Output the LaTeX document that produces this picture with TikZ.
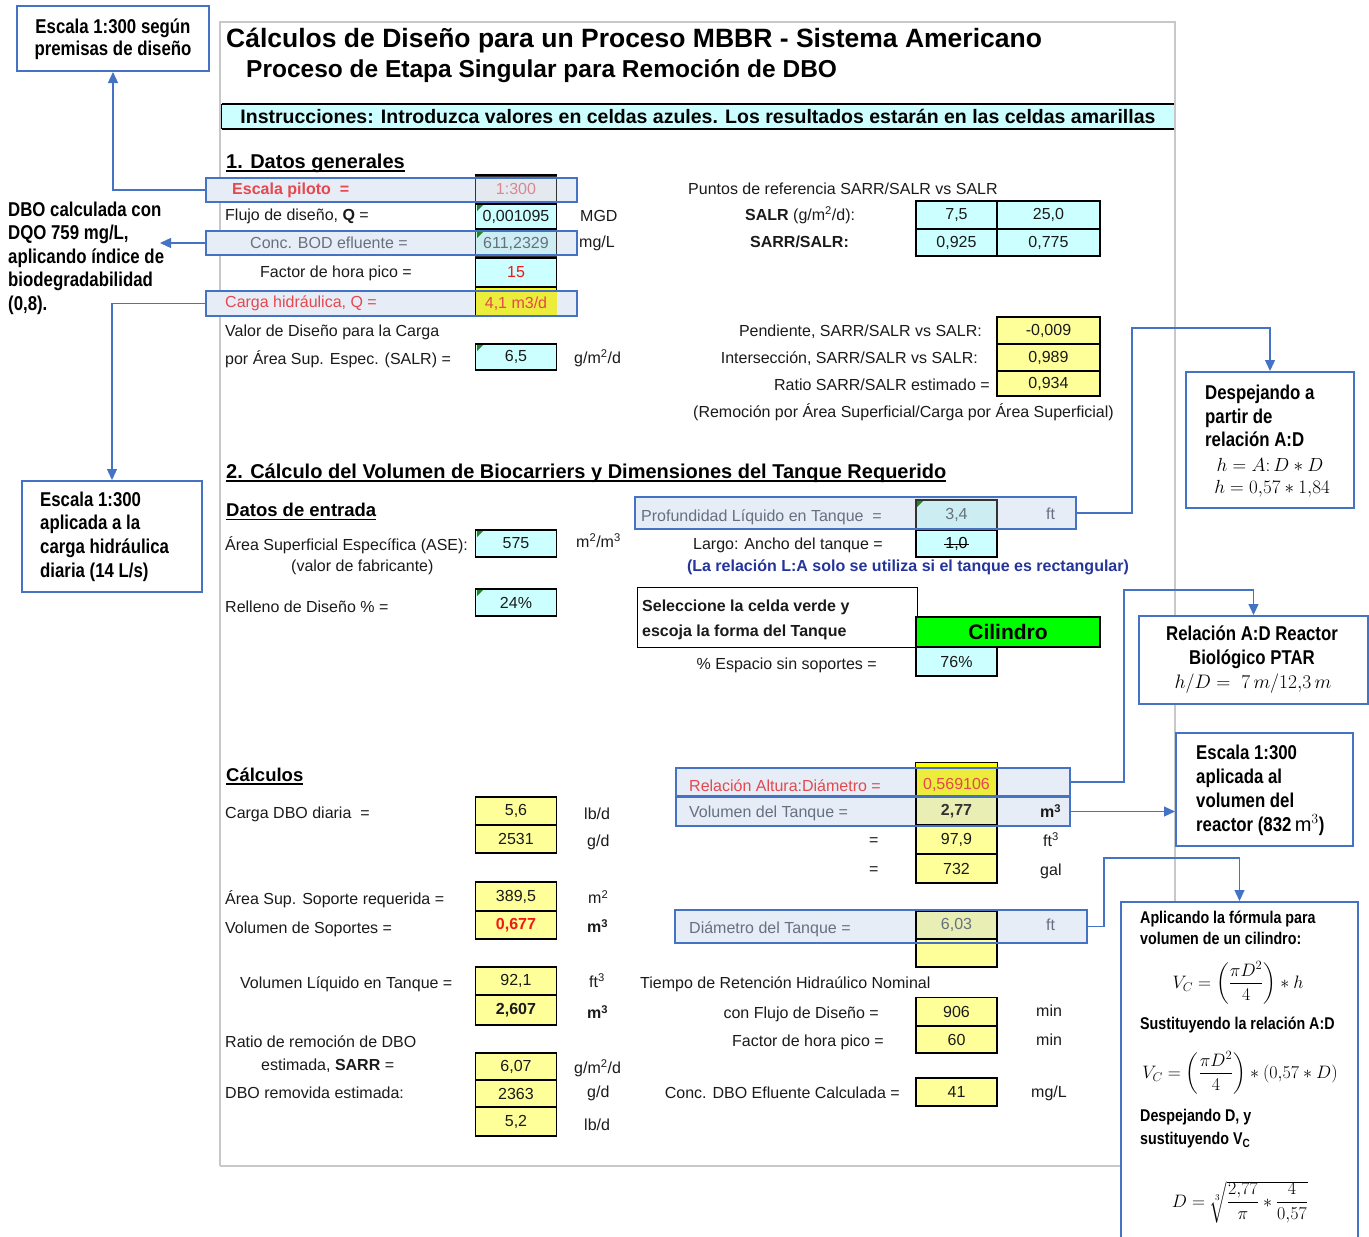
\RequirePackage{fix-cm}
\documentclass[tikz,border=0pt]{standalone}
\usepackage{fontspec}
\usepackage{amsmath}
\setmainfont{Liberation Sans}
\newfontfamily\callfont{Liberation Sans}[FakeStretch=0.84]
\usetikzlibrary{arrows.meta}
\definecolor{cyanc}{HTML}{CCFFFF}
\definecolor{yelc}{HTML}{FFFF99}
\definecolor{yelb}{HTML}{FFFF00}
\definecolor{hlfill}{HTML}{E6EDF7}
\definecolor{hlblue}{HTML}{4472C4}
\definecolor{redt}{HTML}{E5484D}
\definecolor{redv}{HTML}{F01818}
\definecolor{pinkt}{HTML}{D98890}
\definecolor{grayt}{HTML}{667080}
\definecolor{framec}{HTML}{C8C8C8}
\definecolor{navy}{HTML}{24349A}
\definecolor{txt}{HTML}{1A1A1A}
\definecolor{greenc}{HTML}{00FF00}
\definecolor{cmark}{HTML}{1E8A1E}
\definecolor{tgray}{HTML}{E4E8EF}
\definecolor{tcyan}{HTML}{CCEDF2}
\definecolor{tyelb}{HTML}{ECEC3C}
\definecolor{tyelc}{HTML}{E8EEB4}
\newcommand\fsz{\fontsize{16}{19}\selectfont}
\newcommand\hsz{\fontsize{20}{24}\selectfont\bfseries}
\newcommand\ttlf{\fontsize{26.5}{30}\selectfont\bfseries}
\newcommand\ulx[1]{\setbox0\hbox{#1}\rlap{\rule[-3.5pt]{\wd0}{1.6pt}}\box0}
\begin{document}
\begin{tikzpicture}[x=1pt,y=-1pt,
  lbl/.style={anchor=west, inner sep=0pt, font=\fsz, text=txt},
  lble/.style={anchor=east, inner sep=0pt, font=\fsz, text=txt},
  cellbase/.style={draw=black, line width=1.6pt, inner sep=0pt, font=\fsz, text=txt, minimum width=81pt},
  cyc/.style={cellbase, fill=cyanc},
  ylc/.style={cellbase, fill=yelc},
  hlf/.style={fill=hlfill, inner sep=0pt},
  hlb/.style={draw=hlblue, line width=2pt},
  callbox/.style={draw=hlblue, line width=2pt, fill=white, inner sep=0pt},
  conn/.style={draw=hlblue, line width=1.3pt, -{Triangle[length=11pt,width=10pt]}},
  hdr/.style={anchor=west, inner sep=0pt, font=\hsz, text=black},
  ctx/.style={inner sep=0pt, text=black}
]
\useasboundingbox (0,0) rectangle (1369,1237);
% sheet frame
\draw[framec, line width=2pt] (220,1166) -- (220,22) -- (1175,22) -- (1175,902);
\draw[framec, line width=2pt] (220,1166) -- (1121,1166);
% titles
\node[anchor=west, inner sep=0pt, font=\ttlf] (title1) at (226,41) {Cálculos de Diseño para un Proceso MBBR - Sistema Americano};
\node[anchor=west, inner sep=0pt, font=\fontsize{24.5}{28}\selectfont\bfseries] (title2) at (246,71) {Proceso de Etapa Singular para Remoción de DBO};
% instructions
\node[fill=cyanc, minimum width=952pt, minimum height=25pt, inner sep=0pt, font=\fontsize{19.5}{22}\selectfont\bfseries] (inst) at (698,116.5) {Instrucciones: Introduzca valores en celdas azules. Los resultados estarán en las celdas amarillas};
\draw[line width=2.5pt] (inst.north west) -- (inst.north east);
\draw[line width=2.5pt] (inst.south west) -- (inst.south east);
\draw[line width=1pt] (inst.north west) -- (inst.south west);

% ---------- highlight fills (behind)
\node[hlf, minimum width=371pt, minimum height=24pt] (hesc) at (391.5,190) {};
\node[hlf, minimum width=371pt, minimum height=24pt] (hbod) at (391.5,243) {};
\node[hlf, minimum width=371pt, minimum height=25pt] (hcarga) at (391.5,303.5) {};
\node[hlf, minimum width=441pt, minimum height=32pt] (hprof) at (855.5,513) {};
\node[hlf, minimum width=394pt, minimum height=28pt] (hrel) at (873,782) {};
\node[hlf, minimum width=394pt, minimum height=29pt] (hvol) at (873,811.5) {};
\node[hlf, minimum width=412pt, minimum height=33pt] (hdia) at (881,926.5) {};

% ---------- section 1
\node[hdr] (s1) at (226,163) {\ulx{1. Datos generales}};
\node[cellbase, fill=tgray, draw=black!80, minimum height=26pt, text=pinkt] (escc) at (516,189) {1:300};
\draw[line width=2.5pt] (escc.north west) -- (escc.north east);
\node[cyc, minimum height=25pt] (flc) at (516,216.5) {0,001095};
\node[cellbase, fill=tcyan, draw=black!80, minimum height=25pt, text=grayt] (bodc) at (516,243.5) {611,2329};
\node[cyc, minimum height=29pt, text=redv] (fhpc) at (516,272.5) {15};
\node[cellbase, fill=yelb, minimum height=29pt] (cargc) at (516,301.5) {};
\fill[tyelb] ([shift={(0.8,0)}]hcarga.north -| cargc.west) rectangle ([shift={(-0.8,-0.8)}]cargc.south east);
\node[inner sep=0pt, font=\fsz, text=redt] (cargv) at (516,304) {4,1 m3/d};
\node[cyc, minimum height=26pt] (salrc) at (516,357) {6,5};

\node[lbl, font=\fsz\bfseries, text=redt] (l1) at (232,190) {Escala piloto\ \ =};
\node[lbl] (l2) at (225,216) {Flujo de diseño, \textbf{Q} =};
\node[lbl, text=grayt] (l3) at (250,243) {Conc. BOD efluente =};
\node[lbl] (l4) at (260,273) {Factor de hora pico =};
\node[lbl, text=redt] (l5) at (225,303) {Carga hidráulica, Q =};
\node[lbl] (l6) at (225,332) {Valor de Diseño para la Carga};
\node[lbl] (l7) at (225,359) {por Área Sup. Espec. (SALR) =};
\node[lbl] (u1) at (580,216) {MGD};
\node[lbl] (u2) at (579,243) {mg/L};
\node[lbl] (u3) at (574,358) {g/m\textsuperscript{2}/d};

\node[lbl] (r0) at (688,189) {Puntos de referencia SARR/SALR vs SALR};
\node[lbl] (r1) at (745,215) {\textbf{SALR} (g/m\textsuperscript{2}/d):};
\node[lbl] (r2) at (750,242) {\textbf{SARR/SALR:}};
\node[cyc, minimum height=28pt] (t11) at (956.5,215) {7,5};
\node[cyc, minimum height=28pt, minimum width=103pt] (t12) at (1048.5,215) {25,0};
\node[cyc, minimum height=27pt] (t21) at (956.5,242.5) {0,925};
\node[cyc, minimum height=27pt, minimum width=103pt] (t22) at (1048.5,242.5) {0,775};

\node[ylc, minimum height=27pt, minimum width=103pt] (pend) at (1048.5,330.5) {-0,009};
\node[ylc, minimum height=27pt, minimum width=103pt] (inter) at (1048.5,357.5) {0,989};
\node[ylc, minimum height=25pt, minimum width=103pt] (ratio) at (1048.5,383.5) {0,934};
\node[lble] (r3) at (982,332) {Pendiente, SARR/SALR vs SALR:};
\node[lble] (r4) at (978,359) {Intersección, SARR/SALR vs SALR:};
\node[lble] (r5) at (990,385) {Ratio SARR/SALR estimado =};
\node[lbl] (r6) at (693,412) {(Remoción por Área Superficial/Carga por Área Superficial)};

% ---------- section 2
\node[hdr] (s2) at (226,473) {\ulx{2. Cálculo del Volumen de Biocarriers y Dimensiones del Tanque Requerido}};
\node[hdr, font=\fontsize{18.5}{22}\selectfont\bfseries] (s2a) at (226,512) {\ulx{Datos de entrada}};
\node[lbl] (d1) at (225,545) {Área Superficial Específica (ASE):};
\node[lbl] (d2) at (291,567) {(valor de fabricante)};
\node[lbl] (d3) at (576,541) {m\textsuperscript{2}/m\textsuperscript{3}};
\node[lbl] (d4) at (225,607) {Relleno de Diseño \% =};
\node[cyc, minimum height=27pt] (asec) at (516,543.5) {575};
\node[cyc, minimum height=27pt] (rellc) at (516,602.5) {24\%};

\node[cellbase, fill=tcyan, draw=black!80, minimum height=29pt, text=grayt] (profc) at (956.5,514.5) {3,4};
\node[cyc, minimum height=27pt] (lac) at (956.5,543.5) {};
\node[inner sep=0pt, font=\fsz] (lav) at (956.5,544) {1,0};
\draw[line width=0.8pt] ([xshift=-1pt]lav.west) -- ([xshift=1pt]lav.east);
\node[lbl, text=grayt] (m1) at (641,517) {Profundidad Líquido en Tanque\ \ =};
\node[lbl, text=grayt] (m2) at (1046,514) {ft};
\node[lble] (m3) at (883,545) {Largo: Ancho del tanque =};
\node[inner sep=0pt, font=\fsz\bfseries, text=navy] (m4) at (908,567) {(La relación L:A solo se utiliza si el tanque es rectangular)};
\node[draw=black, line width=1pt, fill=white, minimum width=280pt, minimum height=60pt, inner sep=0pt] (selbox) at (777,617) {};
\node[lbl, font=\fsz\bfseries] (m5) at (642,607) {Seleccione la celda verde y};
\node[lbl, font=\fsz\bfseries] (m6) at (642,632) {escoja la forma del Tanque};
\node[cellbase, fill=greenc, minimum width=184pt, minimum height=30pt, font=\fontsize{21}{24}\selectfont\bfseries, text=black] (cil) at (1008,632) {Cilindro};
\node[cyc, minimum height=29pt] (espc) at (956.5,661.5) {76\%};
\node[lble] (m7) at (877,665) {\% Espacio sin soportes =};

% ---------- calculos
\node[hdr, font=\fontsize{18.5}{22}\selectfont\bfseries] (s3) at (226,776) {\ulx{Cálculos}};
\node[ylc, minimum height=28pt] (k1) at (516,811) {5,6};
\node[ylc, minimum height=28pt] (k2) at (516,839) {2531};
\node[ylc, minimum height=29pt] (k3) at (516,896.5) {389,5};
\node[ylc, minimum height=28pt, text=redv, font=\fsz\bfseries] (k4) at (516,925) {0,677};
\node[ylc, minimum height=28pt] (k5) at (516,981) {92,1};
\node[ylc, minimum height=30pt, font=\fsz\bfseries] (k6) at (516,1010) {2,607};
\node[ylc, minimum height=27pt] (k7) at (516,1066.5) {6,07};
\node[ylc, minimum height=27pt] (k8) at (516,1093.5) {2363};
\node[ylc, minimum height=29pt] (k9) at (516,1121.5) {5,2};

\node[lbl] (e1) at (225,814) {Carga DBO diaria\ \ =};
\node[lbl] (e2) at (584,814) {lb/d};
\node[lbl] (e3) at (587,842) {g/d};
\node[lbl] (e4) at (225,899) {Área Sup. Soporte requerida =};
\node[lbl] (e5) at (588,897) {m\textsuperscript{2}};
\node[lbl] (e6) at (225,929) {Volumen de Soportes =};
\node[lbl] (e7) at (587,926) {\textbf{m\textsuperscript{3}}};
\node[lbl] (e8) at (240,984) {Volumen Líquido en Tanque =};
\node[lbl] (e9) at (589,981) {ft\textsuperscript{3}};
\node[lbl] (e10) at (587,1012) {\textbf{m\textsuperscript{3}}};
\node[lbl] (e11) at (225,1042) {Ratio de remoción de DBO};
\node[lbl] (e12) at (261,1066) {estimada, \textbf{SARR} =};
\node[lbl] (e13) at (574,1068) {g/m\textsuperscript{2}/d};
\node[lbl] (e14) at (225,1093) {DBO removida estimada:};
\node[lbl] (e15) at (587,1093) {g/d};
\node[lbl] (e16) at (584,1125) {lb/d};

\node[cellbase, fill=tyelb, minimum height=34pt] (relc) at (956.5,780) {};
\fill[yelb] ([shift={(0.8,0.8)}]relc.north west) rectangle ([xshift=-0.8pt]relc.east |- hrel.north);
\node[inner sep=0pt, font=\fsz, text=redt] (relv) at (956.5,785) {0,569106};
\node[cellbase, fill=tyelc, minimum height=28pt, font=\fsz\bfseries, text=black!80] (volc) at (956.5,811) {2,77};
\node[ylc, minimum height=29pt] (ft3c) at (956.5,839.5) {97,9};
\node[ylc, minimum height=29pt] (galc) at (956.5,868.5) {732};
\node[cellbase, fill=tyelc, minimum height=28pt, text=grayt] (diac) at (956.5,925) {6,03};
\node[ylc, minimum height=28pt] (emptc) at (956.5,953) {};
\node[ylc, minimum height=28pt] (trhc) at (956.5,1011.5) {906};
\node[ylc, minimum height=27pt] (fhc) at (956.5,1039.5) {60};
\node[ylc, minimum height=28pt] (dboc) at (956.5,1092) {41};

\node[lbl, text=redt] (v1) at (689,786) {Relación Altura:Diámetro =};
\node[lbl, text=grayt] (v2) at (689,813) {Volumen del Tanque =};
\node[lbl] (v3) at (1040,811) {\textbf{m\textsuperscript{3}}};
\node[lbl] (v4) at (869,842) {=};
\node[lbl] (v5) at (1043,840) {ft\textsuperscript{3}};
\node[lbl] (v6) at (869,871) {=};
\node[lbl] (v7) at (1040,871) {gal};
\node[lbl, text=grayt] (v8) at (689,929) {Diámetro del Tanque =};
\node[lbl, text=grayt] (v9) at (1046,925) {ft};
\node[lbl] (v10) at (640,984) {Tiempo de Retención Hidraúlico Nominal};
\node[lble] (v11) at (879,1014) {con Flujo de Diseño =};
\node[lbl] (v12) at (1036,1011) {min};
\node[lble] (v13) at (884,1042) {Factor de hora pico =};
\node[lbl] (v14) at (1036,1040) {min};
\node[lble] (v15) at (900,1093) {Conc. DBO Efluente Calculada =};
\node[lbl] (v16) at (1031,1093) {mg/L};

% comment markers
\foreach \cx/\cy in {476/204, 476/231, 476/344, 476/530, 476/589, 916/500}
  \fill[cmark] (\cx+1,\cy+1) -- ++(6,0) -- ++(-6,6) -- cycle;

% ---------- highlight borders
\foreach \h in {hesc,hbod,hcarga,hprof,hrel,hvol,hdia}
  \draw[hlb] (\h.north west) rectangle (\h.south east);

% ---------- callouts
\node[callbox, minimum width=192pt, minimum height=65pt] (call1) at (113,38.5) {};
\node[ctx, align=center, font=\callfont\bfseries\fontsize{20}{22}\selectfont] (call1t) at (113,39) {Escala 1:300 según\\premisas de diseño};

\node[ctx, anchor=west, align=left, font=\callfont\bfseries\fontsize{20}{23.5}\selectfont] (dbot) at (8,258) {DBO calculada con\\DQO 759 mg/L,\\aplicando índice de\\biodegradabilidad\\(0,8).};
\coordinate (dboend) at (160,243);

\node[callbox, minimum width=180pt, minimum height=111pt] (call3) at (112,536.5) {};
\node[ctx, anchor=west, align=left, font=\callfont\bfseries\fontsize{20}{23.7}\selectfont] (call3t) at (40,536.5) {Escala 1:300\\aplicada a la\\carga hidráulica\\diaria (14 L/s)};

\node[callbox, minimum width=168pt, minimum height=136pt] (call4) at (1270,440) {};
\node[ctx, anchor=west, align=left, font=\callfont\bfseries\fontsize{20}{23.3}\selectfont] (call4t) at (1205,416) {Despejando a\\partir de\\relación A:D};
\node[ctx, font=\fontsize{19}{21}\selectfont] (call4m1) at (1270,465) {$h = A{:}\,D * D$};
\node[ctx, font=\fontsize{19}{21}\selectfont] (call4m2) at (1272,489) {$h = 0{,}57 * 1{,}84$};

\node[callbox, minimum width=229pt, minimum height=88pt] (call5) at (1253.5,660) {};
\node[ctx, align=center, font=\callfont\bfseries\fontsize{20}{24}\selectfont] (call5t) at (1252,647) {Relación A:D Reactor\\Biológico PTAR};
\node[ctx, font=\fontsize{19.5}{22}\selectfont] (call5m) at (1253,684) {$h/D =\ 7\,m/12{,}3\,m$};

\node[callbox, minimum width=177pt, minimum height=113pt] (call6) at (1264.5,789.5) {};
\node[ctx, anchor=west, align=left, font=\callfont\bfseries\fontsize{20}{24}\selectfont] (call6t) at (1196,790) {Escala 1:300\\aplicada al\\volumen del\\reactor (832\,$\mathrm{m}^3$)};

\node[callbox, minimum width=237pt, minimum height=348pt] (call7) at (1239.5,1076) {};
\node[ctx, anchor=west, align=left, font=\callfont\bfseries\fontsize{17}{21}\selectfont] (call7a) at (1140,928) {Aplicando la fórmula para\\volumen de un cilindro:};
\node[ctx, font=\fontsize{18}{20}\selectfont] (call7f1) at (1238,983) {$V_C = \left(\dfrac{\pi D^2}{4}\right) * h$};
\node[ctx, anchor=west, font=\callfont\bfseries\fontsize{17}{21}\selectfont] (call7b) at (1140,1025) {Sustituyendo la relación A:D};
\node[ctx, font=\fontsize{18}{20}\selectfont] (call7f2) at (1240,1073) {$V_C = \left(\dfrac{\pi D^2}{4}\right) * (0{,}57 * D)$};
\node[ctx, anchor=west, align=left, font=\callfont\bfseries\fontsize{17}{23}\selectfont] (call7c) at (1140,1129) {Despejando D, y\\sustituyendo V\textsubscript{C}};
\node[ctx, font=\fontsize{18}{20}\selectfont] (call7f3) at (1240,1202) {$D = \sqrt[3]{\dfrac{2{,}77}{\pi} * \dfrac{4}{0{,}57}}$};

% ---------- connectors
\draw[conn] (hesc.west) -| (call1.south);
\draw[conn] (hbod.west) -- (dboend);
\draw[conn] (hcarga.west) -| (call3.north);
\draw[conn] (hprof.east) -| (1132,328) -| (call4.north);
\draw[conn] (hrel.east) -| (1124,590) -| (call5.north);
\draw[conn] (hvol.east) -- (hvol.east -| call6.west);
\draw[conn] (hdia.east) -| (1104,858) -| (call7.north);
\end{tikzpicture}
\end{document}
